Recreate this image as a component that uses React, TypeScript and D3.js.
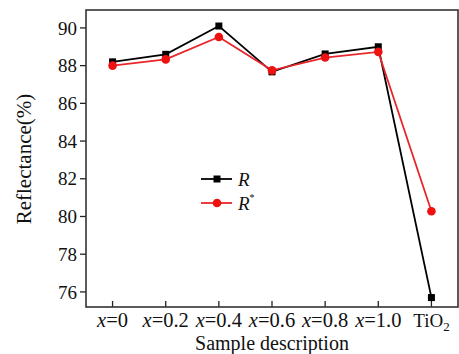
import React from "react";
import * as d3 from "d3";

const categories = ["x=0", "x=0.2", "x=0.4", "x=0.6", "x=0.8", "x=1.0", "TiO2"];
const seriesR = [88.2, 88.6, 90.1, 87.67, 88.62, 89.0, 75.7];
const seriesRStar = [88.0, 88.33, 89.52, 87.75, 88.43, 88.73, 80.28];
const yTicks = [76, 78, 80, 82, 84, 86, 88, 90];

const W = 459, H = 354;
const L = 86, R = 458, T = 10, B = 307;
const serif = "'Liberation Serif', 'Times New Roman', serif";

export default function App() {
  const x = d3.scalePoint<string>().domain(categories).range([L, R]).padding(0.5);
  const y = d3.scaleLinear().domain([75.2, 90.95]).range([B, T]);
  const line = d3.line<number>().x((_, i) => x(categories[i])!).y((d) => y(d));

  const renderCat = (c: string) => {
    if (c.startsWith("x")) {
      return (
        <>
          <tspan fontStyle="italic">x</tspan>
          <tspan>{c.slice(1)}</tspan>
        </>
      );
    }
    return (
      <>
        <tspan fontSize={19}>TiO</tspan>
        <tspan fontSize={13} dy={4}>2</tspan>
      </>
    );
  };

  return (
    <svg width={W} height={H} style={{ position: "absolute", left: 0, top: 0, background: "#fff" }} fontFamily={serif}>
      <rect x={0} y={0} width={W} height={H} fill="#fff" />
      {yTicks.map((t) => (
        <g key={t}>
          <line x1={L - 6} x2={L} y1={y(t)} y2={y(t)} stroke="#222" strokeWidth={1.3} />
          <text x={L - 9} y={y(t)} dy="0.35em" textAnchor="end" fontSize={19} fill="#111">{t}</text>
        </g>
      ))}
      {categories.map((c) => (
        <g key={c}>
          <line x1={x(c)!} x2={x(c)!} y1={B} y2={B - 6} stroke="#222" strokeWidth={1.3} />
          <text x={x(c)!} y={327} textAnchor="middle" fontSize={20.5} fill="#111">{renderCat(c)}</text>
        </g>
      ))}
      <path d={line(seriesR)!} fill="none" stroke="#000" strokeWidth={1.8} />
      {seriesR.map((v, i) => (
        <rect key={i} x={x(categories[i])! - 3.5} y={y(v) - 3.5} width={7} height={7} fill="#000" />
      ))}
      <path d={line(seriesRStar)!} fill="none" stroke="#e8262b" strokeWidth={1.8} />
      {seriesRStar.map((v, i) => (
        <circle key={i} cx={x(categories[i])!} cy={y(v)} r={4.3} fill="#f01010" />
      ))}
      <rect x={L} y={T} width={R - L} height={B - T} fill="none" stroke="#333" strokeWidth={1.6} />
      <line x1={201} x2={232} y1={179} y2={179} stroke="#000" strokeWidth={1.8} />
      <rect x={217 - 3.5} y={179 - 3.5} width={7} height={7} fill="#000" />
      <text x={238} y={185.5} fontSize={19} fontStyle="italic" fill="#111">R</text>
      <line x1={201} x2={232} y1={203} y2={203} stroke="#e8262b" strokeWidth={1.8} />
      <circle cx={217} cy={203} r={4.3} fill="#f01010" />
      <text x={238} y={209.5} fontSize={19} fontStyle="italic" fill="#111">
        R<tspan fontSize={10} dy={-9} fontStyle="normal">*</tspan>
      </text>
      <text transform={`translate(31, 159) rotate(-90)`} textAnchor="middle" fontSize={21} fill="#111">Reflectance(%)</text>
      <text x={(L + R) / 2} y={350} textAnchor="middle" fontSize={20} fill="#111">Sample description</text>
    </svg>
  );
}
